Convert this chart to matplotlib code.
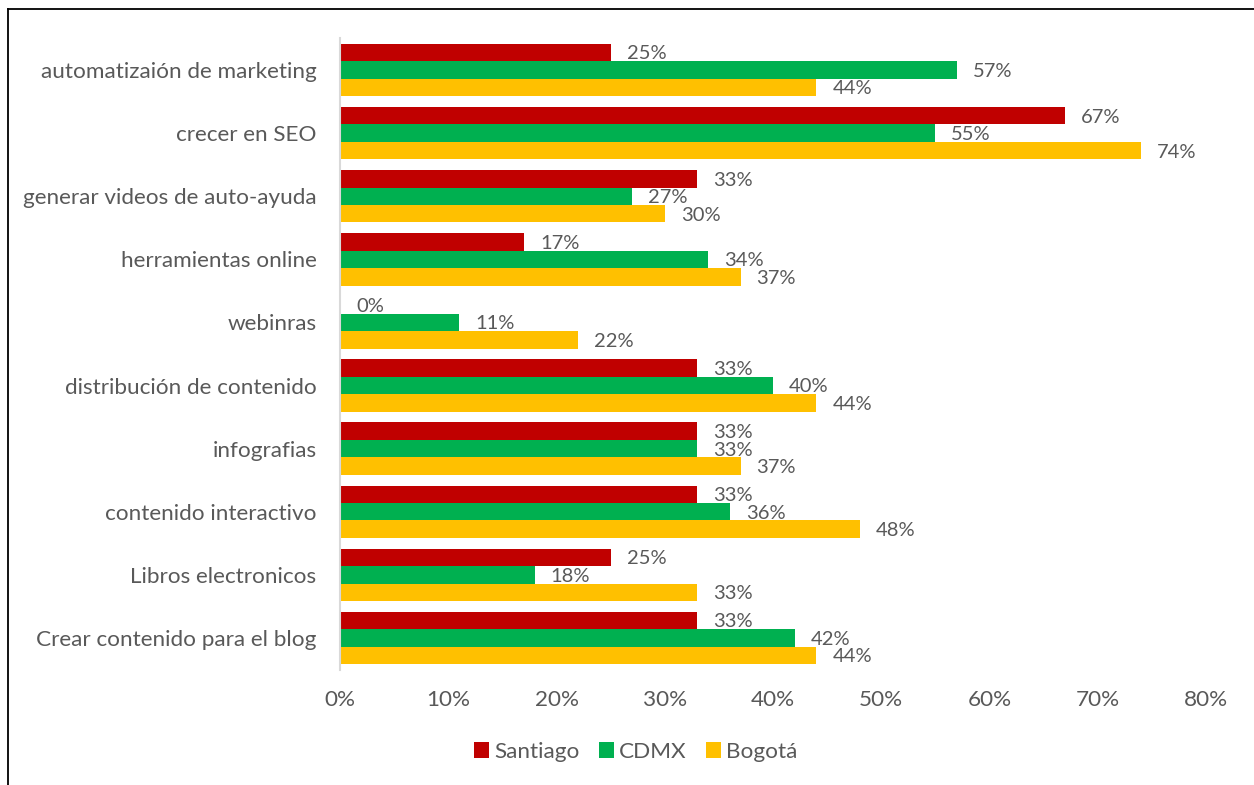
import matplotlib
matplotlib.use("Agg")
import matplotlib.pyplot as plt
from matplotlib.lines import Line2D
from matplotlib.ticker import PercentFormatter
import numpy as np

categories = [
    "automatizaión de marketing",
    "crecer en SEO",
    "generar videos de auto-ayuda",
    "herramientas online",
    "webinras",
    "distribución de contenido",
    "infografias",
    "contenido interactivo",
    "Libros electronicos",
    "Crear contenido para el blog",
]
santiago = [25, 67, 33, 17, 0, 33, 33, 33, 25, 33]
cdmx = [57, 55, 27, 34, 11, 40, 33, 36, 18, 42]
bogota = [44, 74, 30, 37, 22, 44, 37, 48, 33, 44]
series_names = ["Santiago", "CDMX", "Bogotá"]
colors = ["#C00000", "#00B050", "#FFC000"]
x_ticks = [0, 10, 20, 30, 40, 50, 60, 70, 80]

plt.rcParams["font.family"] = ["Lato", "DejaVu Sans"]
text_color = "#595959"

fig = plt.figure(figsize=(12.54, 7.85), dpi=100)
ax = fig.add_axes([340 / 1254, 1 - 669.5 / 785, 866 / 1254, 631 / 785])

y = np.arange(len(categories))
h = 0.277
for i, (vals, name, col) in enumerate(zip([santiago, cdmx, bogota], series_names, colors)):
    pos = y + (i - 1) * h
    ax.barh(pos, vals, height=h, color=col, label=name, zorder=2)
    for p, v in zip(pos, vals):
        ax.annotate(f"{v}%", (v, p), xytext=(11.5, -1), textcoords="offset points",
                    ha="left", va="center", fontsize=14.5, color=text_color, zorder=5)

ax.set_xlim(0, 80)
ax.set_ylim(len(categories) - 0.5, -0.5)
ax.set_xticks(x_ticks)
ax.xaxis.set_major_formatter(PercentFormatter(decimals=0))
ax.set_yticks(y)
ax.set_yticklabels(categories)
ax.tick_params(axis="both", length=0, labelsize=16.2, colors=text_color)
ax.tick_params(axis="x", pad=15)
ax.tick_params(axis="y", pad=17)
for s in ["top", "right", "bottom"]:
    ax.spines[s].set_visible(False)
ax.spines["left"].set_color("#D9D9D9")
ax.spines["left"].set_linewidth(1.5)

leg = fig.legend(loc="center", bbox_to_anchor=(636 / 1254, 1 - 752 / 785), ncol=3,
                 frameon=False, fontsize=16.2, handlelength=0.65, handleheight=0.7,
                 handletextpad=0.25, columnspacing=0.85)
for t in leg.get_texts():
    t.set_color(text_color)

# outer frame (top and left edges)
fig.add_artist(Line2D([7.5 / 1254, 1], [1 - 9 / 785, 1 - 9 / 785], color="black", lw=1.3,
                      transform=fig.transFigure))
fig.add_artist(Line2D([8 / 1254, 8 / 1254], [1 - 9 / 785, 0], color="black", lw=1.3,
                      transform=fig.transFigure))

fig.savefig("out.png", dpi=100)
